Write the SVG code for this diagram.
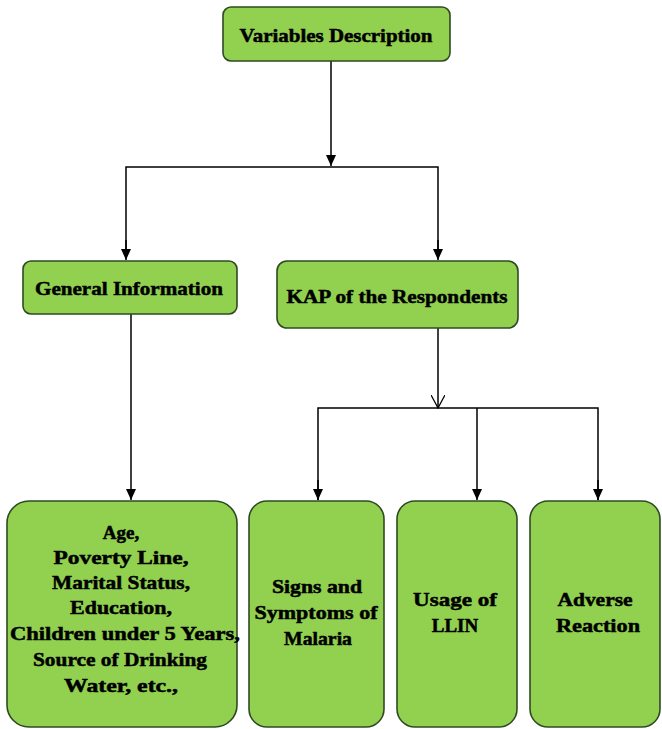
<svg xmlns="http://www.w3.org/2000/svg" width="662" height="729" viewBox="0 0 662 729">
<defs>
<style>
.box{fill:#92D050;stroke:#2f4a22;stroke-width:1.6}
.t{font-family:"Liberation Serif","Times New Roman",serif;font-weight:bold;font-size:19px;fill:#000;stroke:#000;stroke-width:0.5;text-anchor:middle;dominant-baseline:central}
.c{fill:none;stroke:#000;stroke-width:1.5}
</style>
<marker id="ah" markerWidth="12" markerHeight="12" viewBox="0 0 12 12" refX="11" refY="6" orient="auto" markerUnits="userSpaceOnUse">
<path d="M0,1 L11,6 L0,11 Z" fill="#000"/>
</marker>
<marker id="oh" markerWidth="14" markerHeight="14" viewBox="0 0 14 14" refX="13" refY="7" orient="auto" markerUnits="userSpaceOnUse">
<path d="M0,0 L13,7 L0,14" fill="none" stroke="#000" stroke-width="1.3"/>
</marker>
</defs>
<rect width="662" height="729" fill="#fff"/>
<g id="connectors">
<line class="c" x1="331" y1="61" x2="331" y2="166" marker-end="url(#ah)"/>
<polyline class="c" points="126,258 126,167 438,167 438,258"/>
<line class="c" x1="126" y1="240" x2="126" y2="260" marker-end="url(#ah)"/>
<line class="c" x1="438" y1="240" x2="438" y2="260" marker-end="url(#ah)"/>
<line class="c" x1="131" y1="314" x2="131" y2="500" marker-end="url(#ah)"/>
<line class="c" x1="438" y1="328" x2="438" y2="408" marker-end="url(#oh)"/>
<polyline class="c" points="318,500 318,408 598,408 598,500"/>
<line class="c" x1="477" y1="408" x2="477" y2="500" marker-end="url(#ah)"/>
<line class="c" x1="318" y1="480" x2="318" y2="500" marker-end="url(#ah)"/>
<line class="c" x1="598" y1="480" x2="598" y2="500" marker-end="url(#ah)"/>
</g>
<g id="variables-description">
<rect class="box" x="223" y="7" width="227" height="54" rx="8"/>
<text class="t" x="336" y="35" textLength="193" lengthAdjust="spacingAndGlyphs">Variables Description</text>
</g>
<g id="general-information">
<rect class="box" x="23" y="261" width="214" height="53" rx="8"/>
<text class="t" x="129" y="288" textLength="188" lengthAdjust="spacingAndGlyphs">General Information</text>
</g>
<g id="kap">
<rect class="box" x="277" y="261" width="241" height="67" rx="10"/>
<text class="t" x="397" y="296" textLength="221" lengthAdjust="spacingAndGlyphs">KAP of the Respondents</text>
</g>
<g id="general-details">
<rect class="box" x="7" y="501" width="230" height="226" rx="22"/>
<text class="t" x="121" y="532">Age,</text>
<text class="t" x="121" y="557" textLength="135" lengthAdjust="spacingAndGlyphs">Poverty Line,</text>
<text class="t" x="121" y="582" textLength="138" lengthAdjust="spacingAndGlyphs">Marital Status,</text>
<text class="t" x="121" y="607" textLength="102" lengthAdjust="spacingAndGlyphs">Education,</text>
<text class="t" x="125" y="633" textLength="230" lengthAdjust="spacingAndGlyphs">Children under 5 Years,</text>
<text class="t" x="120" y="659" textLength="174" lengthAdjust="spacingAndGlyphs">Source of Drinking</text>
<text class="t" x="121" y="685" textLength="114" lengthAdjust="spacingAndGlyphs">Water, etc.,</text>
</g>
<g id="signs-symptoms">
<rect class="box" x="249" y="501" width="135" height="226" rx="18"/>
<text class="t" x="317" y="586" textLength="90" lengthAdjust="spacingAndGlyphs">Signs and</text>
<text class="t" x="316" y="612" textLength="123" lengthAdjust="spacingAndGlyphs">Symptoms of</text>
<text class="t" x="318" y="638" textLength="68" lengthAdjust="spacingAndGlyphs">Malaria</text>
</g>
<g id="usage-llin">
<rect class="box" x="397" y="501" width="120" height="226" rx="18"/>
<text class="t" x="455" y="599" textLength="84" lengthAdjust="spacingAndGlyphs">Usage of</text>
<text class="t" x="455" y="625">LLIN</text>
</g>
<g id="adverse-reaction">
<rect class="box" x="530" y="501" width="130" height="226" rx="18"/>
<text class="t" x="595" y="599" textLength="75" lengthAdjust="spacingAndGlyphs">Adverse</text>
<text class="t" x="598" y="625" textLength="84" lengthAdjust="spacingAndGlyphs">Reaction</text>
</g>
</svg>
